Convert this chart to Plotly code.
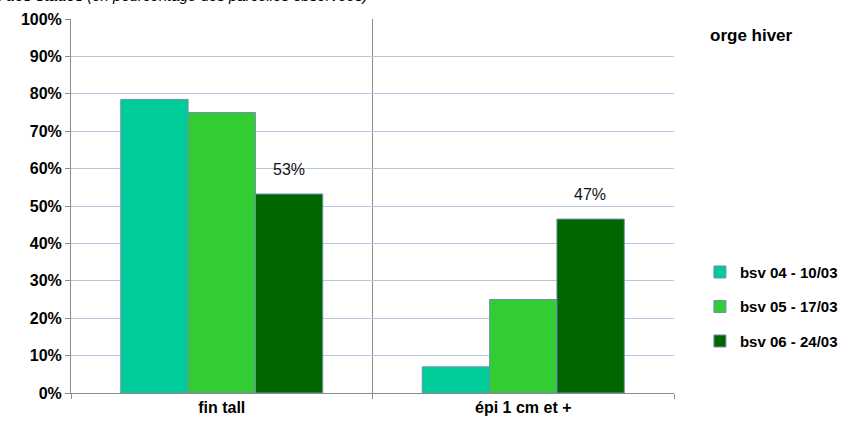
import plotly.graph_objects as go

categories = ["fin tall", "épi 1 cm et +"]
series_names = ["bsv 04 - 10/03", "bsv 05 - 17/03", "bsv 06 - 24/03"]
bsv04 = [0.785, 0.07]
bsv05 = [0.75, 0.25]
bsv06 = [0.532, 0.465]
bsv06_labels = ["53%", "47%"]
colors = ["#00CC99", "#33CC33", "#006600"]

FONT = "Liberation Sans, Arial, sans-serif"

fig = go.Figure()
for i, (name, vals) in enumerate(zip(series_names, [bsv04, bsv05, bsv06])):
    fig.add_trace(go.Bar(
        x=categories, y=vals, name=f"<b>{name}</b>",
        marker=dict(color=colors[i], line=dict(color="#6f8fb5", width=1)),
        legendgroup=f"g{i}",
    ))

for cat, v, lab in zip(categories, bsv06, bsv06_labels):
    fig.add_annotation(x=cat, y=v, xref="x", yref="y", text=lab, showarrow=False,
                       xshift=67, yshift=14, yanchor="bottom",
                       font=dict(family=FONT, size=16, color="#111111"))

fig.add_annotation(xref="paper", yref="paper", x=1.056, y=0.955, text="<b>orge hiver</b>",
                   showarrow=False, xanchor="left", yanchor="middle",
                   font=dict(family=FONT, size=17, color="#000000"))

fig.add_annotation(xref="paper", yref="paper", x=0.494, y=1.034,
                   text="<b>Évolution des stades</b> <i>(en pourcentage des parcelles observées)</i>",
                   showarrow=False, xanchor="right", yanchor="bottom",
                   font=dict(family=FONT, size=15, color="#000000"))

fig.update_layout(
    width=855, height=432,
    margin=dict(l=71, r=179, t=19, b=39),
    paper_bgcolor="white", plot_bgcolor="white",
    barmode="group", bargap=0.33, bargroupgap=0,
    font=dict(family=FONT, size=16, color="#000000"),
    showlegend=True,
    legend=dict(x=1.043, y=0.367, xanchor="left", yanchor="top",
                traceorder="grouped", tracegroupgap=12,
                font=dict(family=FONT, size=15, color="#000000"),
                itemwidth=30, bgcolor="rgba(0,0,0,0)"),
    xaxis=dict(
        tickson="boundaries", showgrid=True, gridcolor="#8c8c8c", gridwidth=1,
        ticks="outside", ticklen=5, tickcolor="#8c8c8c",
        showline=True, linecolor="#8c8c8c", linewidth=1,
        tickfont=dict(family=FONT, size=16, color="#000000", weight="bold"),
        fixedrange=True,
    ),
    yaxis=dict(
        range=[0, 1], dtick=0.1, tickformat=".0%",
        showgrid=True, gridcolor="#b3c7e0", gridwidth=1,
        ticks="outside", ticklen=5, tickcolor="#8c8c8c",
        showline=True, linecolor="#8c8c8c", linewidth=1,
        zeroline=False,
        tickfont=dict(family=FONT, size=16, color="#000000", weight="bold"),
    ),
)

fig.write_html("out.html")
